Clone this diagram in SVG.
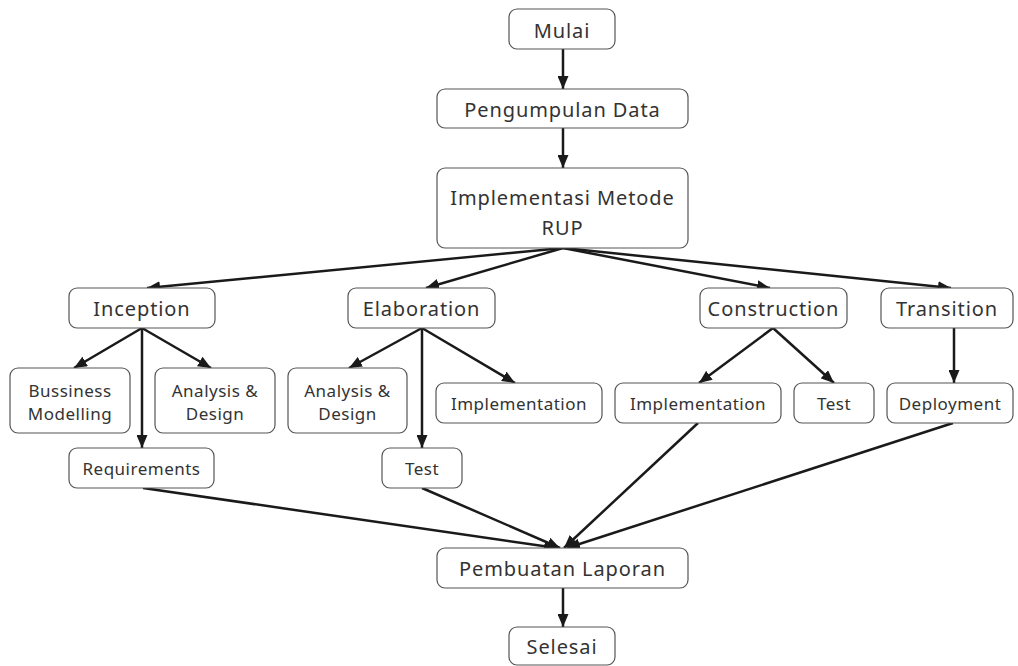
<svg xmlns="http://www.w3.org/2000/svg" width="1018" height="666" viewBox="0 0 1018 666">
<defs>
<style>
.box{fill:#fff;stroke:#555;stroke-width:1.2}
.t{font-family:"Noto Sans","DejaVu Sans",sans-serif;fill:#333;text-anchor:middle}
.big{font-size:20px;letter-spacing:0.9px}
.sm{font-size:17px;letter-spacing:0.5px}
.c{stroke:#1a1a1a;stroke-width:2.5;fill:none;marker-end:url(#ah)}
</style>
<marker id="ah" markerUnits="userSpaceOnUse" markerWidth="13" markerHeight="11" refX="13" refY="5.5" orient="auto">
<path d="M0,0 L13,5.5 L0,11 z" fill="#1a1a1a"/>
</marker>
</defs>
<rect width="1018" height="666" fill="#fff"/>
<g id="connectors">
<line class="c" x1="563" y1="49" x2="563" y2="89"/>
<line class="c" x1="563" y1="128" x2="563" y2="168"/>
<line class="c" x1="563" y1="248" x2="147" y2="288"/>
<line class="c" x1="563" y1="248" x2="426" y2="288"/>
<line class="c" x1="563" y1="248" x2="770" y2="288"/>
<line class="c" x1="563" y1="248" x2="951" y2="288"/>
<line class="c" x1="142" y1="328" x2="74" y2="368"/>
<line class="c" x1="142" y1="328" x2="211" y2="368"/>
<line class="c" x1="142" y1="328" x2="142" y2="448"/>
<line class="c" x1="422" y1="328" x2="349" y2="368"/>
<line class="c" x1="422" y1="328" x2="515" y2="383"/>
<line class="c" x1="422" y1="328" x2="422" y2="448"/>
<line class="c" x1="773" y1="328" x2="699" y2="383"/>
<line class="c" x1="773" y1="328" x2="834" y2="383"/>
<line class="c" x1="954" y1="328" x2="954" y2="383"/>
<line class="c" x1="143" y1="488" x2="557" y2="548"/>
<line class="c" x1="422" y1="488" x2="560" y2="548"/>
<line class="c" x1="698" y1="423" x2="564" y2="548"/>
<line class="c" x1="953" y1="423" x2="567" y2="548"/>
<line class="c" x1="563" y1="588" x2="563" y2="627"/>
</g>
<g id="mulai"><rect class="box" x="509" y="9" width="106" height="40" rx="8"/><text class="t big" x="562" y="37.5">Mulai</text></g>
<g id="pengumpulan"><rect class="box" x="437" y="89" width="251" height="39" rx="8"/><text class="t big" x="562.5" y="116.5">Pengumpulan Data</text></g>
<g id="rup"><rect class="box" x="437" y="168" width="251" height="80" rx="8"/><text class="t big" x="562.5" y="204.5">Implementasi Metode</text><text class="t big" x="562.5" y="234.5">RUP</text></g>
<g id="inception"><rect class="box" x="69" y="288" width="146" height="40" rx="8"/><text class="t big" x="142" y="316">Inception</text></g>
<g id="elaboration"><rect class="box" x="348" y="288" width="147" height="40" rx="8"/><text class="t big" x="421.5" y="316">Elaboration</text></g>
<g id="construction"><rect class="box" x="700" y="288" width="147" height="40" rx="8"/><text class="t big" x="773.5" y="316">Construction</text></g>
<g id="transition"><rect class="box" x="881" y="288" width="132" height="40" rx="8"/><text class="t big" x="947" y="316">Transition</text></g>
<g id="bussiness"><rect class="box" x="10" y="368" width="120" height="65" rx="8"/><text class="t sm" x="70" y="397">Bussiness</text><text class="t sm" x="70" y="420">Modelling</text></g>
<g id="analysis1"><rect class="box" x="155" y="368" width="120" height="65" rx="8"/><text class="t sm" x="215" y="397">Analysis &amp;</text><text class="t sm" x="215" y="420">Design</text></g>
<g id="requirements"><rect class="box" x="69" y="448" width="145" height="40" rx="8"/><text class="t sm" x="141.5" y="475">Requirements</text></g>
<g id="analysis2"><rect class="box" x="288" y="368" width="119" height="65" rx="8"/><text class="t sm" x="347.5" y="397">Analysis &amp;</text><text class="t sm" x="347.5" y="420">Design</text></g>
<g id="implementation1"><rect class="box" x="436" y="383" width="166" height="40" rx="8"/><text class="t sm" x="519" y="410">Implementation</text></g>
<g id="test1"><rect class="box" x="382" y="448" width="80" height="40" rx="8"/><text class="t sm" x="422" y="475">Test</text></g>
<g id="implementation2"><rect class="box" x="615" y="383" width="166" height="40" rx="8"/><text class="t sm" x="698" y="410">Implementation</text></g>
<g id="test2"><rect class="box" x="794" y="383" width="80" height="40" rx="8"/><text class="t sm" x="834" y="410">Test</text></g>
<g id="deployment"><rect class="box" x="887" y="383" width="126" height="40" rx="8"/><text class="t sm" x="950" y="410">Deployment</text></g>
<g id="pembuatan"><rect class="box" x="437" y="548" width="251" height="40" rx="8"/><text class="t big" x="562.5" y="576">Pembuatan Laporan</text></g>
<g id="selesai"><rect class="box" x="509" y="627" width="106" height="38" rx="8"/><text class="t big" x="562" y="653.5">Selesai</text></g>
</svg>
